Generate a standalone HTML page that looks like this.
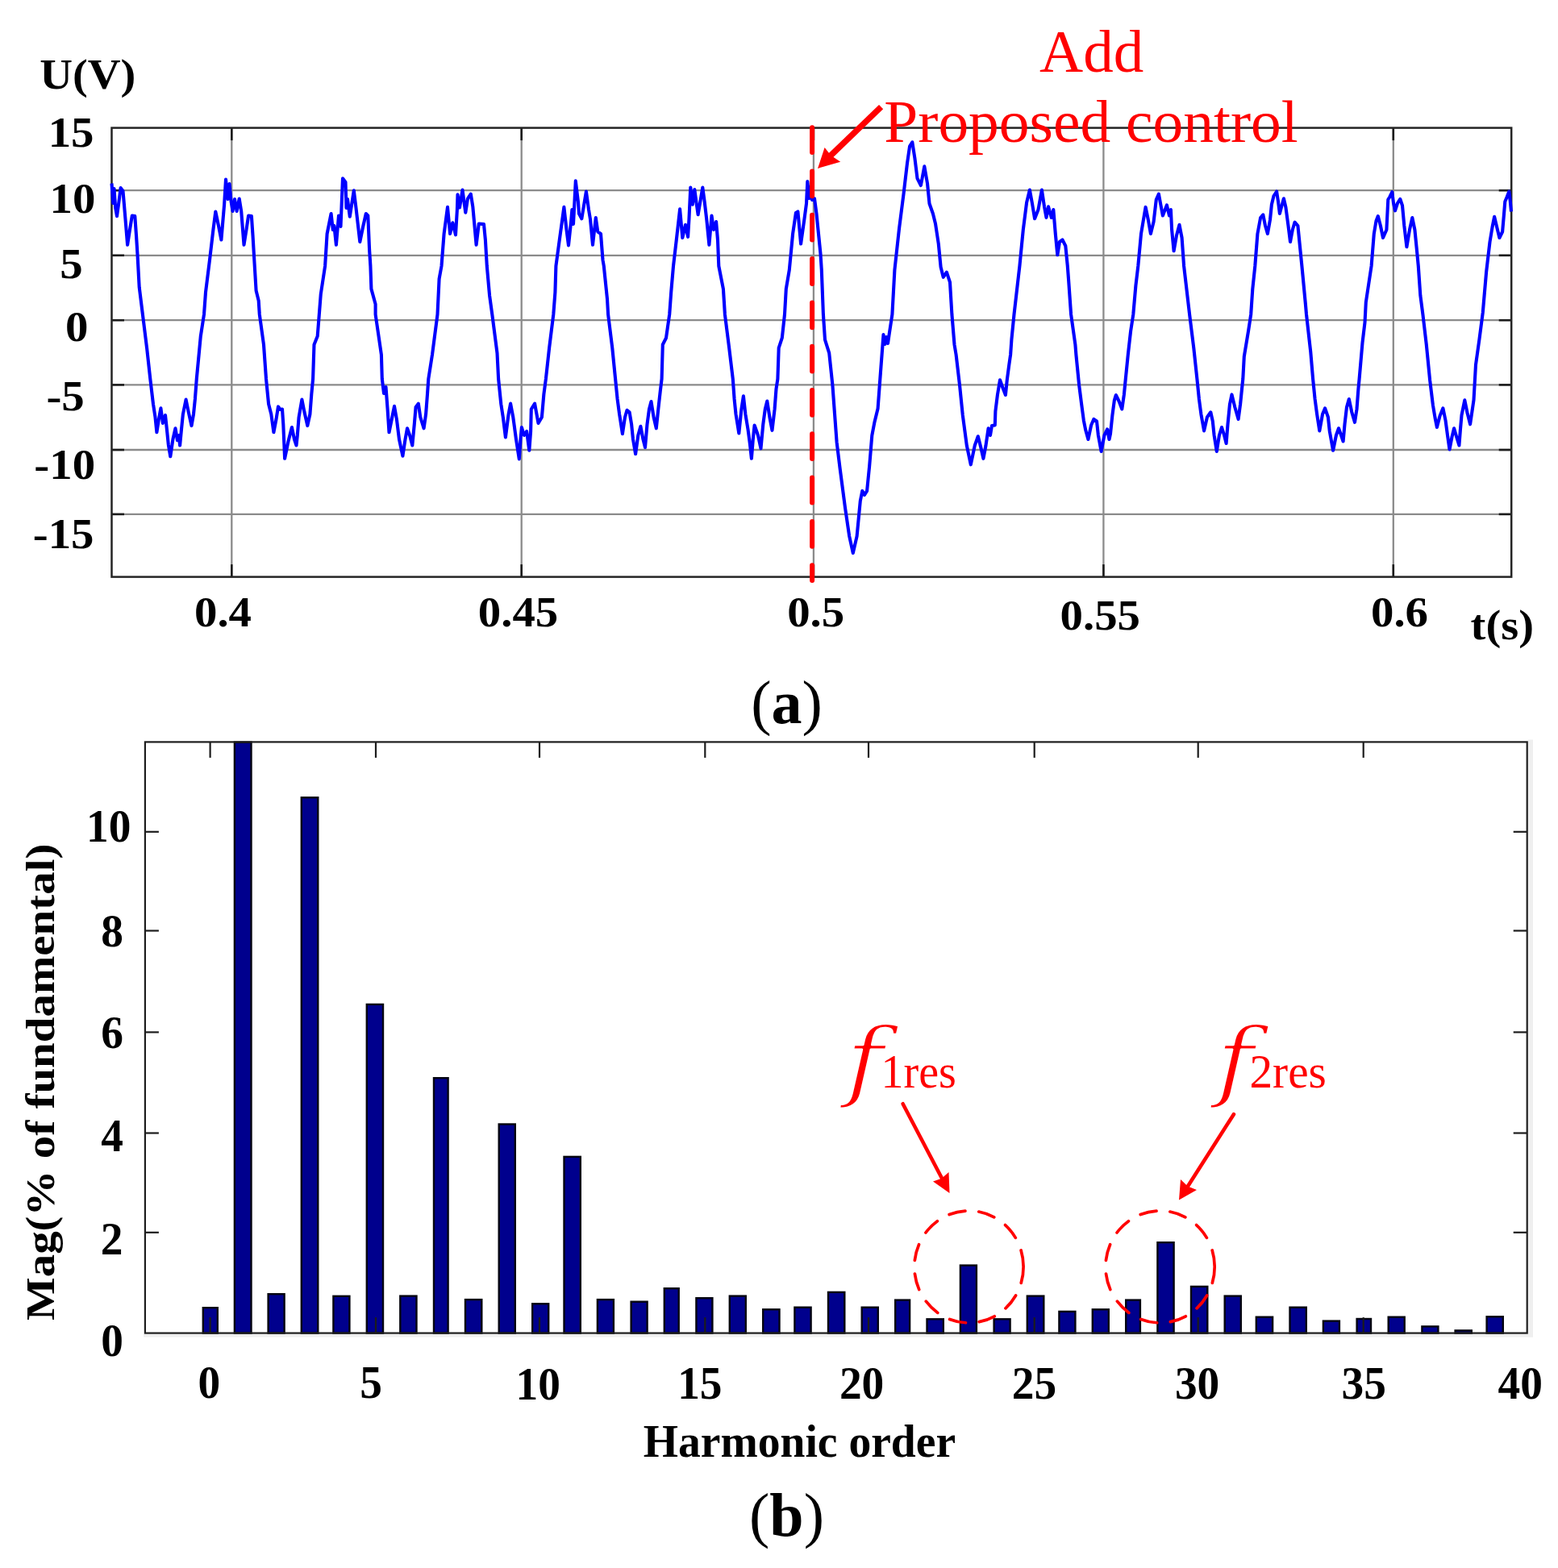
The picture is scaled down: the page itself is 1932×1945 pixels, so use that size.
<!DOCTYPE html>
<html lang="en">
<head>
<meta charset="utf-8">
<title>Figure: voltage waveform and harmonic spectrum</title>
<style>
html,body{margin:0;padding:0;background:#fff;}
body{width:1932px;height:1945px;}
svg{display:block;}
text{font-family:"Liberation Serif","DejaVu Serif",serif;}
.b{font-weight:bold;fill:#000;}
.r{fill:#ff0000;}
.fi{font-family:"DejaVu Serif","Liberation Serif",serif;font-style:italic;stroke:#fff;stroke-width:2.6px;stroke-linejoin:round;}
.grid line{stroke:#8b8b8b;stroke-width:2.3;}
.tk line{stroke:#1c1c1c;stroke-width:2.6;}
.tk2 line{stroke:#1c1c1c;stroke-width:2.2;}
.bars rect{fill:#00008d;stroke:#050510;stroke-width:2.4;}
</style>
</head>
<body>
<svg width="1932" height="1945" viewBox="0 0 1932 1945">
<rect x="0" y="0" width="1932" height="1945" fill="#ffffff"/>
<defs><filter id="soft" x="-2%" y="-5%" width="104%" height="110%"><feGaussianBlur stdDeviation="0.75"/></filter></defs>
<g id="chart-a">
<g class="grid">
<line x1="287.3" y1="158.6" x2="287.3" y2="715.6"/>
<line x1="646.7" y1="158.6" x2="646.7" y2="715.6"/>
<line x1="1008.9" y1="158.6" x2="1008.9" y2="715.6"/>
<line x1="1368.4" y1="158.6" x2="1368.4" y2="715.6"/>
<line x1="1727.8" y1="158.6" x2="1727.8" y2="715.6"/>
<line x1="138.5" y1="236.2" x2="1874.2" y2="236.2"/>
<line x1="138.5" y1="316.8" x2="1874.2" y2="316.8"/>
<line x1="138.5" y1="397.2" x2="1874.2" y2="397.2"/>
<line x1="138.5" y1="477.4" x2="1874.2" y2="477.4"/>
<line x1="138.5" y1="558" x2="1874.2" y2="558"/>
<line x1="138.5" y1="637.9" x2="1874.2" y2="637.9"/>
</g>
<g class="tk">
<line x1="287.3" y1="158.6" x2="287.3" y2="174.1"/>
<line x1="287.3" y1="700.1" x2="287.3" y2="715.6"/>
<line x1="646.7" y1="158.6" x2="646.7" y2="174.1"/>
<line x1="646.7" y1="700.1" x2="646.7" y2="715.6"/>
<line x1="1008.9" y1="158.6" x2="1008.9" y2="174.1"/>
<line x1="1008.9" y1="700.1" x2="1008.9" y2="715.6"/>
<line x1="1368.4" y1="158.6" x2="1368.4" y2="174.1"/>
<line x1="1368.4" y1="700.1" x2="1368.4" y2="715.6"/>
<line x1="1727.8" y1="158.6" x2="1727.8" y2="174.1"/>
<line x1="1727.8" y1="700.1" x2="1727.8" y2="715.6"/>
<line x1="138.5" y1="236.2" x2="154" y2="236.2"/>
<line x1="1858.7" y1="236.2" x2="1874.2" y2="236.2"/>
<line x1="138.5" y1="316.8" x2="154" y2="316.8"/>
<line x1="1858.7" y1="316.8" x2="1874.2" y2="316.8"/>
<line x1="138.5" y1="397.2" x2="154" y2="397.2"/>
<line x1="1858.7" y1="397.2" x2="1874.2" y2="397.2"/>
<line x1="138.5" y1="477.4" x2="154" y2="477.4"/>
<line x1="1858.7" y1="477.4" x2="1874.2" y2="477.4"/>
<line x1="138.5" y1="558" x2="154" y2="558"/>
<line x1="1858.7" y1="558" x2="1874.2" y2="558"/>
<line x1="138.5" y1="637.9" x2="154" y2="637.9"/>
<line x1="1858.7" y1="637.9" x2="1874.2" y2="637.9"/>
</g>
<rect x="138.5" y="158.6" width="1735.7" height="557" fill="none" stroke="#242424" stroke-width="2.5"/>
<polyline filter="url(#soft)" fill="none" stroke="#0000ff" stroke-width="4.1" stroke-linejoin="round" stroke-linecap="butt" points="138.5,227.5 140.3,252 141.5,234 143.2,258 145,268.1 147.5,250 149.6,233.1 152.5,236.9 155.5,272 158.1,303.8 161,285 163.8,267.5 167.3,268.1 169,292 170.6,317.5 172.7,356.3 176.9,390 182.1,431.7 186.3,470 190,501.3 192.5,517.5 194.4,536.3 196.9,520 199.4,506.3 201.9,525 205,515 206.9,532.5 208.8,551.3 211.3,566.3 214.4,545 217.5,531.3 220,546.3 221.9,540 223.1,552.5 225,532.5 226.9,513.8 230.6,495.6 233.8,511.3 237.5,528.1 240,513.8 241.9,495 243.8,470 248.8,417.1 253,390 255,362.6 260,322.5 264.4,285 267.3,262.5 271,280 274.4,297.5 278.1,253.8 280,222.5 282.6,247 284.5,228 286.6,250 288.5,262 291,247 293.6,262 296.7,246.5 299.2,262 302.5,303.8 305.5,285 308.1,267.5 311.9,268.1 313.5,292 315,317.5 317.6,360.5 320.7,373 321.8,390 327,427.5 330,470 333.1,501.3 336.3,513.8 339.4,536.3 342.5,520 345,504.4 347.5,508 350,507.5 351.3,526.3 352.3,550 353.1,568.8 357.5,547.5 361.9,530 365,545 367.5,552.5 368.8,540 370.6,517.5 374.4,495.6 377.5,511.3 381.3,528.1 384.4,513.8 386.3,488.8 388.1,470 389.5,427.5 393.7,417.1 397.8,364.7 403.1,330 405.6,290 410.6,265 412.8,285 414.4,280 416.9,303.8 420,267.5 422.5,281 425,221.3 428.5,226 429.5,258 431,247 433.8,268.8 438.8,236.3 441.5,258 446.3,300 450,282 453.8,265 456.3,267.5 458.1,310 459.4,330 460.4,358.4 465.6,377.2 465.6,390 472.9,440 473.8,470 476,488 478.5,480 480.6,507.5 482.5,536.3 486.3,517.5 489,503.8 491.9,520 495,545 499.4,565.6 502.5,545 505,531.3 508.1,540 511.3,552.5 513.8,526.3 515.6,505 518.8,500.6 521.3,517.5 525.6,531.3 528.1,513.8 530,488.8 531.3,470 536,440 542.5,390 544.6,345.9 547.5,330 550.6,290 555,256.9 558.1,290 561.3,276.3 565,291.3 566.9,260 567.5,241.3 570,257.5 573.5,235.6 577.3,263.8 580,246.3 583.8,240.6 586.3,256.3 590.6,303.8 593.8,277.5 600,278.1 601.9,297.5 603.8,330 607.1,366.8 610.3,390 616.5,438 618.1,470 621.3,501.3 623.8,517.5 626.9,542.5 630.6,513.8 633.1,500.6 636.3,517.5 640,545 643.8,569.4 645.5,545 646.9,530 650,540 653.1,535 656.3,558.8 658.1,535 658.8,507.5 663.1,500.6 667.5,525 671.9,517.5 674.4,488.8 676.9,470 681.1,431.7 686.3,390 688.4,362.6 689.4,330 693.8,297.5 699.4,256.9 702.5,285 705,304.4 708.1,275 709.4,260 711,278 713.8,224.4 716.9,250 718,265 721.3,271.3 724,255 726.9,237.5 730,260 732,272 735,303.8 738.8,270 741.3,287.5 745,290 747.5,322.5 748.8,330 753,370.9 754.1,390 759.3,431.7 763.1,470 765.6,495 768.1,513.8 771.9,538.1 775,517.5 777.5,508.8 780.6,511.3 783.1,526.3 785,545 788.1,563.1 791.3,540 794.4,528.8 797.5,545 800,555 802.5,526.3 805,507.5 807.5,498.1 810.6,517.5 813.8,531.3 816.3,507.5 818.8,485 820.6,470 821.8,427.5 826,419.2 830.2,390 832.2,362.6 835,330 838.8,297.5 843.1,259.4 846.3,295 850,278.8 853.1,293.8 854.4,272.5 856.3,232.5 858.8,253.8 861.3,235 865.6,266.3 871.3,232.5 873.8,251.3 876.3,272.5 879.4,303.8 882.5,267.5 885,285 888.1,275 890,297.5 891.3,330 896.9,358.4 898.9,390 904.2,431.7 908.8,470 910.6,495 912.5,513.8 916.3,537.5 919.4,507.5 921.9,491.3 924.4,513.8 927.5,532.5 930,551.3 931.9,568.8 933.8,545 935.6,527.5 940,540 943.5,556.3 946.3,526.3 948.8,507.5 951.3,497.5 954.4,517.5 957.5,533.8 960.6,507.5 962.5,482.5 964.4,470 965.7,431.7 969.8,419.2 973,390 974.8,358.4 978.8,334.9 983.1,290 986.9,264 989.4,262.5 993.1,302.5 997.5,271.3 1000,252.5 1001.3,225 1003.5,246 1005,232 1007,248 1010,246.3 1012.5,265 1015,290 1017.5,315 1018.8,334.9 1020.9,390 1023,421.3 1028.2,437.9 1032.4,477.5 1037.6,548.4 1041.7,581.8 1048,629.7 1053.2,665.1 1057.8,686 1062.6,665.1 1066.8,621.4 1069.3,608.9 1072,614 1075.1,608.9 1078.2,577.6 1081.3,540.1 1084.5,523.4 1088.6,506.7 1092.8,450.4 1095.5,415 1097.3,427 1099.1,418 1101,426 1102.6,415 1106.4,390 1109.4,334.9 1115,283.8 1120.6,240 1125,202.5 1128.1,181.3 1131.3,176.3 1134.4,196.3 1137.5,221.3 1141.9,230 1146.3,206.3 1150,227.5 1152.5,252.5 1156.9,265 1160,277.5 1163.8,302.5 1166.6,331.3 1169.7,343.8 1173.9,337.6 1178,350.1 1180.4,390 1183.5,427.5 1185.6,440 1190,477.5 1193.8,515 1198.8,552.5 1203.8,576.3 1208.8,552.5 1212.8,541.3 1216.3,555 1219.4,568.8 1222.5,552.5 1225.6,531.3 1228,540 1230,528 1233.8,527.5 1234.4,510 1236.9,490 1240,471.3 1243.1,480 1246.9,490 1248.8,471.3 1251.3,452.5 1253.1,440 1254.4,421.3 1257.5,390 1264.4,330 1268.8,285 1273.1,251.3 1276.9,235.6 1280,252.5 1283.1,271.3 1287.5,260 1291.9,235.6 1295,256.3 1297.5,270 1300,256.3 1303.8,270 1306.3,260 1308.8,290 1311.3,316.3 1314,300 1317.5,297.5 1321.3,305 1323.8,330 1325,345.9 1328.1,390 1333.4,427.5 1334.4,440 1338.1,477.5 1341.3,502.5 1343.8,521.3 1346.3,533.8 1349.4,545 1353.1,527.5 1356.3,520 1360,522.5 1361.9,540 1365.6,560 1369.4,540 1373.1,532.5 1375.5,545 1377,538 1379.4,515 1381.9,496.3 1383.8,490 1387.5,497.5 1391.3,507.5 1393.8,490 1396.3,465 1398.8,440 1402.1,410.8 1405.3,390 1408.4,354.2 1411.3,330 1415,290 1420.6,256.9 1423.8,272.5 1426.9,290 1430.6,275 1433.8,247.5 1436.9,240.6 1440,257.5 1441.9,267.5 1446.9,254.4 1450,267.5 1451.9,260 1453.1,285 1455.6,311.3 1459,292 1462.5,278.8 1465.6,295 1468.1,330 1475.1,390 1480.3,431.7 1484.4,470 1486.9,495 1489.4,513.8 1493.1,534.4 1496.9,517.5 1501.3,511.3 1503.8,522.5 1505.6,540 1508.8,560 1511.9,540 1515,530 1518.1,540 1520.6,550 1522.5,526.3 1525,501.3 1527.5,489.4 1531.3,505 1535.6,520 1538.1,501.3 1540,482.5 1541.3,470 1542.8,442.1 1548,410.8 1551.2,390 1553.3,358.4 1556.3,330 1559.4,290 1563.1,270 1566.3,266.3 1569,280 1571.9,290 1575,272.5 1576.9,253.8 1579.5,243 1583.1,237.5 1585,250 1586.9,265 1589.5,255 1591.9,246.3 1594.4,257 1597.5,280 1600,300 1602.8,285 1605.6,275.6 1609.4,280 1611.9,305 1614.4,330 1618.9,377.2 1620,390 1625.2,435.9 1628.1,470 1630.6,495 1633.1,513.8 1636.3,534.4 1640,513.8 1643.1,506.3 1646.9,517.5 1648.8,535 1653.1,558.8 1656.9,540 1660,531.3 1663.1,540 1665.6,547.5 1667.5,526.3 1670,505 1672.8,495 1676.3,511.3 1680,523.8 1682.5,507.5 1684.4,482.5 1685.6,470 1689.5,425 1692.5,400 1693.8,375 1700.6,330 1703.8,290 1706.5,274 1708.8,268.1 1711.9,280 1715,295 1719.4,285 1721.3,247.5 1723.5,244 1726.3,238.1 1728,252 1730,261.3 1733,252 1736.3,246.9 1739,255 1741.3,280 1744.4,306.3 1748,285 1751.3,270 1754.4,285 1756.9,310 1758.8,330 1761.3,366.3 1764.4,390 1768.8,427.5 1773.1,471.3 1776.9,502.5 1779.5,518 1781.9,530 1785.5,516 1789.4,506.3 1792.5,521.3 1795,540 1797.5,557.5 1800.5,542 1803.1,531.3 1806.5,543 1809.4,552.5 1811,532 1812.5,515 1816.3,496.3 1819.5,512 1823.1,526.3 1825.5,510 1827.5,496.3 1830,452.5 1834.4,421.3 1838.8,387.5 1843.1,337.5 1847.5,300 1850.5,282 1853.1,268.8 1856.5,283 1859.4,295 1863.1,287.5 1864.8,268 1866.3,250 1868.8,244 1871.3,237.5 1872.8,250 1874,262.5"/>
<line x1="1007.1" y1="158.2" x2="1007.1" y2="720" stroke="#ff0000" stroke-width="6" stroke-linecap="round" stroke-dasharray="30.8 23.5"/>
<line x1="1092.6" y1="132.7" x2="1029" y2="194" stroke="#ff0000" stroke-width="7.4"/>
<polygon points="1014,208.9 1022.6,183.1 1030.3,192.8 1042.2,200.7" fill="#ff0000"/>
<text class="r" x="1353.7" y="89" font-size="75" text-anchor="middle">Add</text>
<text class="r" transform="translate(1353 176) scale(1.006 1)" font-size="75" text-anchor="middle">Proposed control</text>
<text class="b" transform="translate(108.8 109.6) scale(1.06 1)" font-size="53.3" text-anchor="middle">U(V)</text>
<text class="b" transform="translate(88.1 181.6) scale(1.085 1)" font-size="52.4" text-anchor="middle">15</text>
<text class="b" transform="translate(89.9 263.8) scale(1.085 1)" font-size="52.4" text-anchor="middle">10</text>
<text class="b" transform="translate(88.5 345.3) scale(1.085 1)" font-size="52.4" text-anchor="middle">5</text>
<text class="b" transform="translate(95.1 423.3) scale(1.085 1)" font-size="52.4" text-anchor="middle">0</text>
<text class="b" transform="translate(81.1 509.2) scale(1.085 1)" font-size="52.4" text-anchor="middle">-5</text>
<text class="b" transform="translate(80.2 594.2) scale(1.085 1)" font-size="52.4" text-anchor="middle">-10</text>
<text class="b" transform="translate(78.6 680) scale(1.085 1)" font-size="52.4" text-anchor="middle">-15</text>
<text class="b" transform="translate(276.5 777.3) scale(1.085 1)" font-size="52.4" text-anchor="middle">0.4</text>
<text class="b" transform="translate(642.5 776.7) scale(1.085 1)" font-size="52.4" text-anchor="middle">0.45</text>
<text class="b" transform="translate(1011.7 777.3) scale(1.085 1)" font-size="52.4" text-anchor="middle">0.5</text>
<text class="b" transform="translate(1364.3 781.2) scale(1.085 1)" font-size="52.4" text-anchor="middle">0.55</text>
<text class="b" transform="translate(1735.5 777.3) scale(1.085 1)" font-size="52.4" text-anchor="middle">0.6</text>
<text class="b" transform="translate(1862.8 793) scale(1.06 1)" font-size="53.3" text-anchor="middle">t(s)</text>
<text x="975.5" y="896.6" font-size="76" text-anchor="middle" fill="#000">(<tspan font-weight="bold">a</tspan>)</text>
</g>
<g id="chart-b">
<rect x="1894.8" y="917.5" width="6.2" height="741" fill="#efefef"/>
<rect x="178" y="1654.6" width="1723" height="3.9" fill="#efefef"/>
<g class="bars">
<rect x="251.8" y="1622.2" width="18" height="31.4"/>
<rect x="290.9" y="920.6" width="20.6" height="733"/>
<rect x="332.6" y="1605.2" width="20" height="48.4"/>
<rect x="373.8" y="989.3" width="20.5" height="664.3"/>
<rect x="413.4" y="1607.8" width="20" height="45.8"/>
<rect x="454.8" y="1245.9" width="20.2" height="407.7"/>
<rect x="496.3" y="1607.6" width="20.2" height="46"/>
<rect x="538" y="1337.2" width="17.6" height="316.4"/>
<rect x="577" y="1612.1" width="20.3" height="41.5"/>
<rect x="618.7" y="1394.5" width="20.1" height="259.1"/>
<rect x="660.2" y="1617.3" width="20" height="36.3"/>
<rect x="699.5" y="1434.9" width="20.3" height="218.7"/>
<rect x="740.9" y="1612.1" width="20" height="41.5"/>
<rect x="782.6" y="1614.7" width="20" height="38.9"/>
<rect x="823.8" y="1598.2" width="17.9" height="55.4"/>
<rect x="863.4" y="1610.2" width="20" height="43.4"/>
<rect x="904.8" y="1607.6" width="20" height="46"/>
<rect x="946.2" y="1624.3" width="20.3" height="29.3"/>
<rect x="985.4" y="1621.7" width="20.2" height="31.9"/>
<rect x="1027" y="1602.9" width="20.3" height="50.7"/>
<rect x="1068.7" y="1621.7" width="20.1" height="31.9"/>
<rect x="1110.2" y="1612.6" width="17.9" height="41"/>
<rect x="1149.5" y="1636.3" width="20.3" height="17.3"/>
<rect x="1190.9" y="1569.6" width="20" height="84"/>
<rect x="1232.6" y="1636.3" width="20" height="17.3"/>
<rect x="1273.8" y="1607.6" width="20.5" height="46"/>
<rect x="1313.4" y="1626.9" width="20" height="26.7"/>
<rect x="1354.8" y="1624.3" width="20" height="29.3"/>
<rect x="1396.2" y="1612.6" width="17.7" height="41"/>
<rect x="1435.4" y="1541.2" width="20.2" height="112.4"/>
<rect x="1477" y="1595.9" width="20.3" height="57.7"/>
<rect x="1518.7" y="1607.6" width="20.1" height="46"/>
<rect x="1557.8" y="1633.7" width="20.3" height="19.9"/>
<rect x="1599.5" y="1621.7" width="20.3" height="31.9"/>
<rect x="1640.9" y="1638.6" width="20" height="15"/>
<rect x="1682.6" y="1636" width="17.4" height="17.6"/>
<rect x="1721.7" y="1633.7" width="20" height="19.9"/>
<rect x="1763.4" y="1645.4" width="20" height="8.2"/>
<rect x="1804.6" y="1650.4" width="20.2" height="3.2"/>
<rect x="1843.6" y="1633.3" width="20.2" height="20.3"/>
</g>
<g class="tk2">
<line x1="260.6" y1="920.4" x2="260.6" y2="939.9"/>
<line x1="260.6" y1="1634.1" x2="260.6" y2="1653.6" stroke="#333"/>
<line x1="466" y1="920.4" x2="466" y2="939.9"/>
<line x1="466" y1="1634.1" x2="466" y2="1653.6" stroke="#333"/>
<line x1="669" y1="920.4" x2="669" y2="939.9"/>
<line x1="669" y1="1634.1" x2="669" y2="1653.6" stroke="#333"/>
<line x1="874.3" y1="920.4" x2="874.3" y2="939.9"/>
<line x1="874.3" y1="1634.1" x2="874.3" y2="1653.6" stroke="#333"/>
<line x1="1077" y1="920.4" x2="1077" y2="939.9"/>
<line x1="1077" y1="1634.1" x2="1077" y2="1653.6" stroke="#333"/>
<line x1="1282.7" y1="920.4" x2="1282.7" y2="939.9"/>
<line x1="1282.7" y1="1634.1" x2="1282.7" y2="1653.6" stroke="#333"/>
<line x1="1485.7" y1="920.4" x2="1485.7" y2="939.9"/>
<line x1="1485.7" y1="1634.1" x2="1485.7" y2="1653.6" stroke="#333"/>
<line x1="1690.7" y1="920.4" x2="1690.7" y2="939.9"/>
<line x1="1690.7" y1="1634.1" x2="1690.7" y2="1653.6" stroke="#333"/>
<line x1="179.9" y1="1528.8" x2="196.9" y2="1528.8"/>
<line x1="1876.7" y1="1528.8" x2="1893.7" y2="1528.8"/>
<line x1="179.9" y1="1405.5" x2="196.9" y2="1405.5"/>
<line x1="1876.7" y1="1405.5" x2="1893.7" y2="1405.5"/>
<line x1="179.9" y1="1280.4" x2="196.9" y2="1280.4"/>
<line x1="1876.7" y1="1280.4" x2="1893.7" y2="1280.4"/>
<line x1="179.9" y1="1154.5" x2="196.9" y2="1154.5"/>
<line x1="1876.7" y1="1154.5" x2="1893.7" y2="1154.5"/>
<line x1="179.9" y1="1031.8" x2="196.9" y2="1031.8"/>
<line x1="1876.7" y1="1031.8" x2="1893.7" y2="1031.8"/>
</g>
<rect x="179.9" y="920.4" width="1713.8" height="733.2" fill="none" stroke="#1e1e1e" stroke-width="2.2"/>
<ellipse cx="1201.5" cy="1571.4" rx="67.6" ry="69.5" fill="none" stroke="#ff0000" stroke-width="3.7" stroke-linecap="round" stroke-dasharray="20.3 16.9"/>
<ellipse cx="1438.6" cy="1571.4" rx="67.6" ry="69.5" fill="none" stroke="#ff0000" stroke-width="3.7" stroke-linecap="round" stroke-dasharray="20.3 16.9"/>
<line x1="1119.6" y1="1369.2" x2="1169" y2="1463.5" stroke="#ff0000" stroke-width="4.6" stroke-linecap="round"/>
<polygon points="1177.5,1480 1157,1465.5 1167.7,1461.7 1176.5,1454" fill="#ff0000"/>
<line x1="1529.9" y1="1382.2" x2="1472" y2="1473" stroke="#ff0000" stroke-width="4.6" stroke-linecap="round"/>
<polygon points="1462,1488.5 1464,1463 1472.8,1471.4 1484,1476" fill="#ff0000"/>
<g class="r"><text transform="translate(1048.6 1351.7) scale(1.19 1)" class="r fi" font-size="107.6">f</text><text transform="translate(1092.5 1349.3) scale(0.95 1)" class="r" font-size="59">1res</text></g>
<g class="r"><text transform="translate(1507.7 1351.7) scale(1.19 1)" class="r fi" font-size="107.6">f</text><text transform="translate(1549.5 1349.3) scale(0.97 1)" class="r" font-size="59">2res</text></g>
<text class="b" transform="translate(134.7 1043.7) scale(0.98 1)" font-size="56.5" text-anchor="middle">10</text>
<text class="b" transform="translate(139 1174) scale(0.98 1)" font-size="56.5" text-anchor="middle">8</text>
<text class="b" transform="translate(139 1300.3) scale(0.98 1)" font-size="56.5" text-anchor="middle">6</text>
<text class="b" transform="translate(139 1428) scale(0.98 1)" font-size="56.5" text-anchor="middle">4</text>
<text class="b" transform="translate(138.5 1555.6) scale(0.98 1)" font-size="56.5" text-anchor="middle">2</text>
<text class="b" transform="translate(139 1681.8) scale(0.98 1)" font-size="56.5" text-anchor="middle">0</text>
<text class="b" transform="translate(259.3 1733.8) scale(0.98 1)" font-size="56.5" text-anchor="middle">0</text>
<text class="b" transform="translate(460 1734.3) scale(0.98 1)" font-size="56.5" text-anchor="middle">5</text>
<text class="b" transform="translate(667.2 1735.8) scale(0.98 1)" font-size="56.5" text-anchor="middle">10</text>
<text class="b" transform="translate(867.8 1734.8) scale(0.98 1)" font-size="56.5" text-anchor="middle">15</text>
<text class="b" transform="translate(1068.6 1734.8) scale(0.98 1)" font-size="56.5" text-anchor="middle">20</text>
<text class="b" transform="translate(1282.5 1734.8) scale(0.98 1)" font-size="56.5" text-anchor="middle">25</text>
<text class="b" transform="translate(1484.6 1734.5) scale(0.98 1)" font-size="56.5" text-anchor="middle">30</text>
<text class="b" transform="translate(1691.2 1734.5) scale(0.98 1)" font-size="56.5" text-anchor="middle">35</text>
<text class="b" transform="translate(1885.2 1734.5) scale(0.98 1)" font-size="56.5" text-anchor="middle">40</text>
<text class="b" transform="translate(991.4 1807.2) scale(0.975 1)" font-size="57" text-anchor="middle">Harmonic order</text>
<text class="b" transform="translate(67.2 1342.3) rotate(-90) scale(1.117 1)" font-size="51" text-anchor="middle">Mag(% of fundamental)</text>
<text x="975.5" y="1904.9" font-size="76" text-anchor="middle" fill="#000">(<tspan font-weight="bold">b</tspan>)</text>
</g>
</svg>
</body>
</html>
